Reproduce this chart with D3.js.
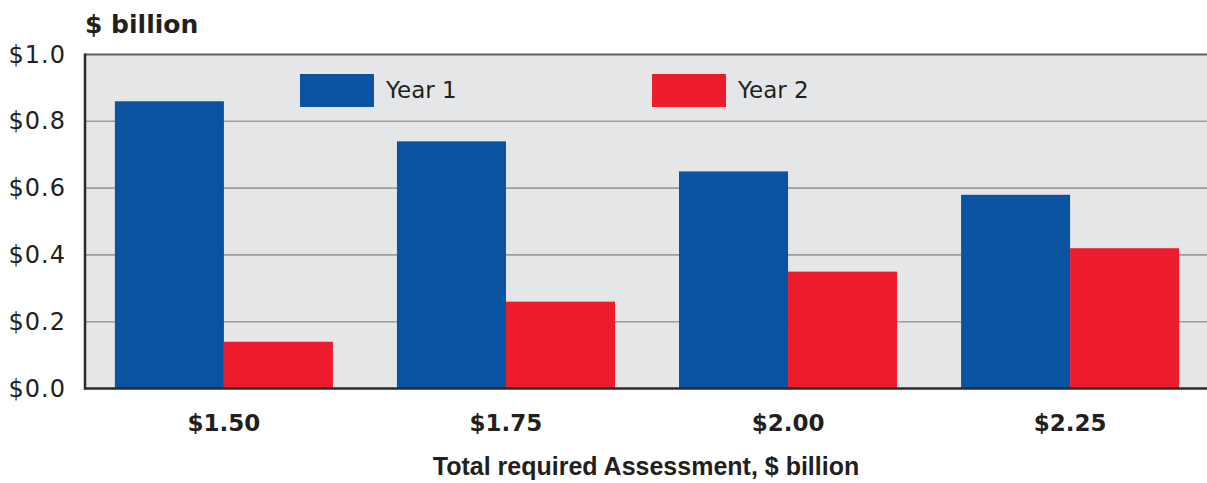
<!DOCTYPE html>
<html>
<head>
<meta charset="utf-8">
<script src="https://cdn.jsdelivr.net/npm/d3@7"></script>
<style>
  html, body { margin: 0; padding: 0; background: #ffffff; }
  svg { display: block; }
</style>
</head>
<body>
<svg id="chart" width="1207" height="483"></svg>
<script>
// Assessment levels on the x axis and the two yearly series
const categories = ["$1.50", "$1.75", "$2.00", "$2.25"];
const seriesNames = ["Year 1", "Year 2"];
const year1 = [0.86, 0.74, 0.65, 0.58];
const year2 = [0.14, 0.26, 0.35, 0.42];
const yTicks = [0, 0.2, 0.4, 0.6, 0.8, 1.0];

const colors = { "Year 1": "#0a53a0", "Year 2": "#ec1c2d" };
const textColor = "#231f20";

const svg = d3.select("#chart");
const plot = { left: 85, right: 1207, top: 54.5, bottom: 388.5 };

const x0 = d3.scaleBand()
  .domain(categories)
  .range([plot.left, 1209])
  .paddingInner(0.227)
  .paddingOuter(0.106);

const x1 = d3.scaleBand()
  .domain(seriesNames)
  .range([0, x0.bandwidth()]);

const y = d3.scaleLinear()
  .domain([0, 1])
  .range([plot.bottom, plot.top]);

const rows = categories.map((c, i) => ({
  category: c,
  values: [
    { series: "Year 1", value: year1[i] },
    { series: "Year 2", value: year2[i] }
  ]
}));

// plot background
svg.append("rect")
  .attr("x", plot.left)
  .attr("y", plot.top)
  .attr("width", plot.right - plot.left)
  .attr("height", plot.bottom - plot.top)
  .attr("fill", "#e5e6e8");

// horizontal grid lines between the frame edges
svg.append("g")
  .selectAll("line")
  .data(yTicks.filter(t => t > 0 && t < 1))
  .join("line")
  .attr("x1", plot.left)
  .attr("x2", plot.right)
  .attr("y1", d => y(d))
  .attr("y2", d => y(d))
  .attr("stroke", "#9d9d9f")
  .attr("stroke-width", 1.6);

// top frame line at the maximum tick
svg.append("line")
  .attr("x1", plot.left).attr("x2", plot.right)
  .attr("y1", y(1)).attr("y2", y(1))
  .attr("stroke", "#606060")
  .attr("stroke-width", 2);

// bars
const groups = svg.append("g")
  .selectAll("g")
  .data(rows)
  .join("g")
  .attr("transform", d => `translate(${x0(d.category)},0)`);

groups.selectAll("rect")
  .data(d => d.values)
  .join("rect")
  .attr("x", d => x1(d.series))
  .attr("y", d => y(d.value))
  .attr("width", x1.bandwidth())
  .attr("height", d => y(0) - y(d.value))
  .attr("fill", d => colors[d.series]);

// left and bottom axis lines
svg.append("line")
  .attr("x1", plot.left).attr("x2", plot.left)
  .attr("y1", plot.top - 1).attr("y2", plot.bottom + 1)
  .attr("stroke", "#2b2b2b")
  .attr("stroke-width", 2.5);

svg.append("line")
  .attr("x1", plot.left - 1).attr("x2", plot.right)
  .attr("y1", y(0)).attr("y2", y(0))
  .attr("stroke", "#2b2b2b")
  .attr("stroke-width", 2.5);

// y axis labels
const yAxis = d3.axisLeft(y)
  .tickValues(yTicks)
  .tickFormat(d => "$" + d.toFixed(1))
  .tickSize(0)
  .tickPadding(19);

const gy = svg.append("g")
  .attr("transform", `translate(${plot.left},0)`)
  .call(yAxis);
gy.select(".domain").remove();
gy.selectAll("text")
  .attr("fill", textColor)
  .style("font-family", "'DejaVu Sans', sans-serif")
  .style("font-size", "24px")
  .style("letter-spacing", "1px");

// x axis labels
const xAxis = d3.axisBottom(x0)
  .tickSize(0)
  .tickPadding(26);

const gx = svg.append("g")
  .attr("transform", `translate(0,${plot.bottom})`)
  .call(xAxis);
gx.select(".domain").remove();
gx.selectAll("text")
  .attr("fill", textColor)
  .style("font-family", "'DejaVu Sans', sans-serif")
  .style("font-weight", "bold")
  .style("font-size", "23px");

// y unit title
svg.append("text")
  .attr("x", plot.left)
  .attr("y", 33)
  .attr("fill", textColor)
  .style("font-family", "'DejaVu Sans', sans-serif")
  .style("font-weight", "bold")
  .style("font-size", "25px")
  .text("$ billion");

// x axis title
svg.append("text")
  .attr("x", (plot.left + plot.right) / 2)
  .attr("y", 475)
  .attr("text-anchor", "middle")
  .attr("fill", textColor)
  .style("font-family", "'Liberation Sans Narrow', 'Liberation Sans', sans-serif")
  .style("font-weight", "bold")
  .style("font-size", "25px")
  .text("Total required Assessment, $ billion");

// legend
const legendX = [300, 652];
const legend = svg.append("g")
  .selectAll("g")
  .data(seriesNames)
  .join("g")
  .attr("transform", (d, i) => `translate(${legendX[i]},74)`);

legend.append("rect")
  .attr("width", 74)
  .attr("height", 33)
  .attr("fill", d => colors[d]);

legend.append("text")
  .attr("x", 86)
  .attr("y", 24)
  .attr("fill", textColor)
  .style("font-family", "'DejaVu Sans', sans-serif")
  .style("font-size", "23px")
  .text(d => d);
</script>
</body>
</html>
